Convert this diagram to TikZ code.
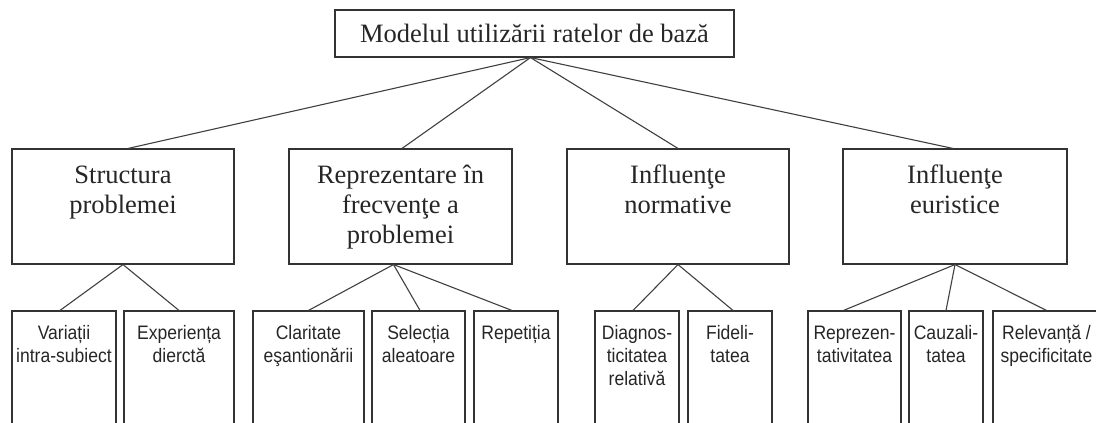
\documentclass[tikz,border=0pt]{standalone}
\usepackage{fontspec}
\setmainfont{Liberation Serif}
\newfontfamily\arialf[FakeStretch=0.9]{Liberation Sans}
\newcommand\mkser[3]{\begin{minipage}[c][#2][t]{#1}\centering\fontsize{26.5}{30}\selectfont\vspace*{13pt}\strut #3\end{minipage}}
\newcommand\mksan[3]{\begin{minipage}[c][#2][t]{#1}\centering\arialf\fontsize{19.5}{23}\selectfont\vspace*{12pt}\strut #3\end{minipage}}
\begin{document}
\begin{tikzpicture}[x=1pt,y=-1pt,
  box/.style={draw=black!80, line width=1.1pt, inner sep=0pt, text=black!85},
  link/.style={draw=black!75, line width=1.1pt}]
\useasboundingbox (0,0) rectangle (1096,423);
\clip (0,0) rectangle (1096,423);
% root
\node[box, minimum width=399pt, minimum height=47pt, font=\fontsize{26.5}{30}\selectfont] (root) at (534.5,33.5) {Modelul utilizării ratelor de bază};
% level 2
\node[box] (s) at (123,206.5) {\mkser{222pt}{115pt}{Structura\\problemei}};
\node[box] (r) at (400.5,206.5) {\mkser{223pt}{115pt}{Reprezentare în\\frecvenţe a\\problemei}};
\node[box] (n) at (678,206.5) {\mkser{222pt}{115pt}{Influenţe\\normative}};
\node[box] (e) at (955,206.5) {\mkser{224pt}{115pt}{Influenţe\\euristice}};
% level 3
\node[box] (a) at (64,375.5) {\mksan{104pt}{129pt}{Variații\\intra-subiect}};
\node[box] (b) at (179,375.5) {\mksan{110pt}{129pt}{Experiența\\dierctă}};
\node[box] (c) at (308.5,375.5) {\mksan{111pt}{129pt}{Claritate\\eşantionării}};
\node[box] (d) at (418.5,375.5) {\mksan{93pt}{129pt}{Selecția\\aleatoare}};
\node[box] (e3) at (516,375.5) {\mksan{84pt}{129pt}{Repetiția}};
\node[box] (f) at (637,375.5) {\mksan{84pt}{129pt}{Diagnos-\\ticitatea\\relativă}};
\node[box] (g) at (730,375.5) {\mksan{84pt}{129pt}{Fideli-\\tatea}};
\node[box] (h) at (854.5,375.5) {\mksan{93pt}{129pt}{Reprezen-\\tativitatea}};
\node[box] (i) at (946,375.5) {\mksan{74pt}{129pt}{Cauzali-\\tatea}};
\node[box] (j) at (1046.5,375.5) {\mksan{107pt}{129pt}{Relevanță /\\specificitate}};
% links
\draw[link] ([xshift=-4pt]root.south) -- ([xshift=5pt]s.north);
\draw[link] ([xshift=-4pt]root.south) -- ([xshift=1.5pt]r.north);
\draw[link] ([xshift=-4pt]root.south) -- (n.north);
\draw[link] ([xshift=-4pt]root.south) -- ([xshift=-2pt]e.north);
\draw[link] (s.south) -- ([xshift=-4pt]a.north);
\draw[link] (s.south) -- (b.north);
\draw[link] ([xshift=-7pt]r.south) -- (c.north);
\draw[link] ([xshift=-7pt]r.south) -- ([xshift=1.5pt]d.north);
\draw[link] ([xshift=-7pt]r.south) -- ([xshift=-4pt]e3.north);
\draw[link] (n.south) -- ([xshift=-4pt]f.north);
\draw[link] (n.south) -- ([xshift=3pt]g.north);
\draw[link] (e.south) -- ([xshift=-11pt]h.north);
\draw[link] (e.south) -- (i.north);
\draw[link] (e.south) -- (j.north);
\end{tikzpicture}
\end{document}
